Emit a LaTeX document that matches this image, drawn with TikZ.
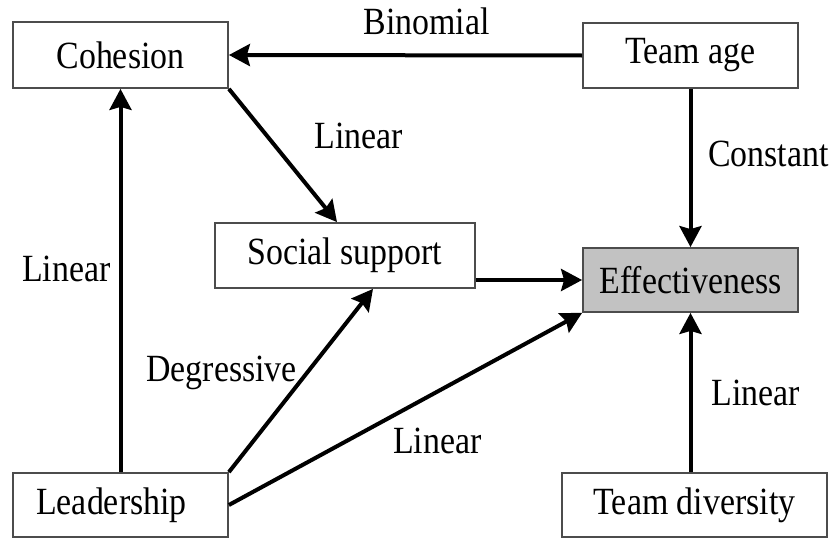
\documentclass[tikz,border=0pt]{standalone}
\usepackage{fontspec}
\setmainfont[FakeStretch=0.88]{Liberation Serif}
\usetikzlibrary{arrows.meta, calc}

\begin{document}
\begin{tikzpicture}[x=1pt, y=-1pt,
        every node/.style={font=\fontsize{38.5}{44}\selectfont},
        box/.style={draw=black!70, line width=1.8pt, inner sep=0pt},
        link/.style={line width=4pt, -{Stealth[length=21pt, width=22pt, inset=3pt]}}
    ]
        \useasboundingbox (0, 0) rectangle (833, 538);
        \node[box, minimum width=215, minimum height=66] (coh) at (120.5, 55) {Cohesion};
        \node[box, minimum width=215, minimum height=65] (tage) at (690.5, 55.5) {Team age};
        \node[box, minimum width=260, minimum height=65] (soc) at (345, 255.5) {Social support};
        \node[box, fill=black!24, minimum width=215, minimum height=64] (eff) at (690.5, 280) {Effectiveness};
        \node[box, minimum width=215, minimum height=64] (lead) at (120.5, 505) {Leadership\kern18pt\relax};
        \node[box, minimum width=265, minimum height=64] (tdiv) at (694.5, 505) {Team diversity};
        \draw[link] (tage.west) -- node[pos=0.44, yshift=34pt] {Binomial} (coh.east);
        \draw[link] (tage.south) -- node[pos=0.41, xshift=78pt] {Constant} (eff.north);
        \draw[link] (coh.south east) -- node[pos=0.35, xshift=92pt] {Linear} ($(soc.north)+(-8, 0)$);
        \draw[link] (lead.north) -- node[pos=0.53, xshift=-54pt] {Linear} (coh.south);
        \draw[link] (lead.north east) -- node[pos=0.54, xshift=-85pt] {Degressive} ($(soc.south)+(28, 0)$);
        \draw[link] (lead.east) -- node[pos=0.59, yshift=-49pt] {Linear} (eff.south west);
        \draw[link] (soc.east |- eff.west) -- (eff.west);
        \draw[link] (eff.south |- tdiv.north) -- node[pos=0.5, xshift=65pt] {Linear} (eff.south);
    \end{tikzpicture}
\end{document}
